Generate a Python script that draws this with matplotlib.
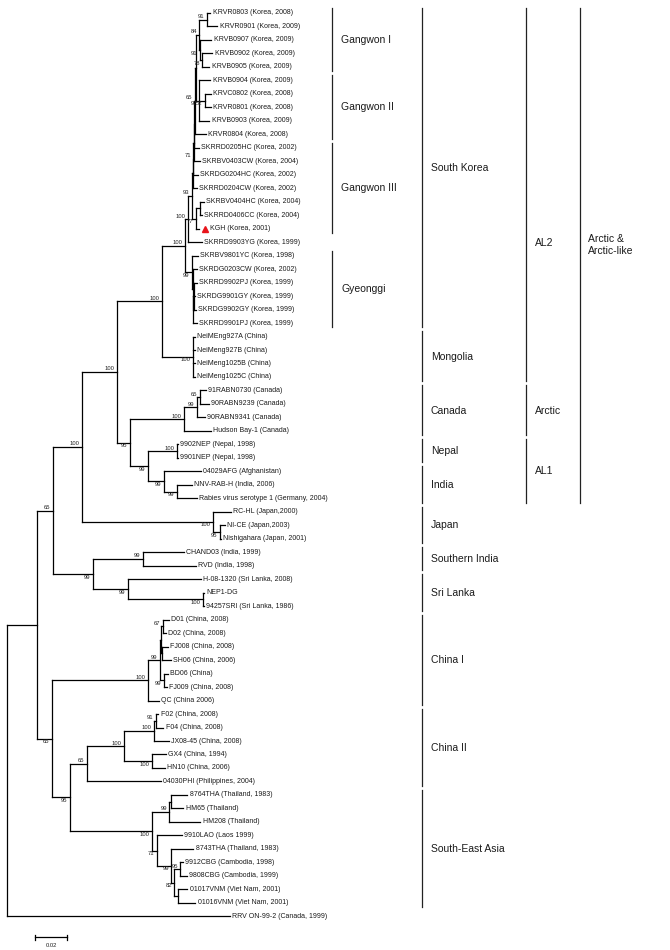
import matplotlib
matplotlib.use('Agg')
import matplotlib.pyplot as plt

plt.rcParams['font.family'] = ['Liberation Sans', 'DejaVu Sans']

# taxa, in the order they appear from top to bottom
taxa = [
    'KRVR0803 (Korea, 2008)', 'KRVR0901 (Korea, 2009)', 'KRVB0907 (Korea, 2009)',
    'KRVB0902 (Korea, 2009)', 'KRVB0905 (Korea, 2009)', 'KRVB0904 (Korea, 2009)',
    'KRVC0802 (Korea, 2008)', 'KRVR0801 (Korea, 2008)', 'KRVB0903 (Korea, 2009)',
    'KRVR0804 (Korea, 2008)', 'SKRRD0205HC (Korea, 2002)', 'SKRBV0403CW (Korea, 2004)',
    'SKRDG0204HC (Korea, 2002)', 'SKRRD0204CW (Korea, 2002)', 'SKRBV0404HC (Korea, 2004)',
    'SKRRD0406CC (Korea, 2004)', 'KGH (Korea, 2001)', 'SKRRD9903YG (Korea, 1999)',
    'SKRBV9801YC (Korea, 1998)', 'SKRDG0203CW (Korea, 2002)', 'SKRRD9902PJ (Korea, 1999)',
    'SKRDG9901GY (Korea, 1999)', 'SKRDG9902GY (Korea, 1999)', 'SKRRD9901PJ (Korea, 1999)',
    'NeiMEng927A (China)', 'NeiMeng927B (China)', 'NeiMeng1025B (China)', 'NeiMeng1025C (China)',
    '91RABN0730 (Canada)', '90RABN9239 (Canada)', '90RABN9341 (Canada)', 'Hudson Bay-1 (Canada)',
    '9902NEP (Nepal, 1998)', '9901NEP (Nepal, 1998)', '04029AFG (Afghanistan)',
    'NNV-RAB-H (India, 2006)', 'Rabies virus serotype 1 (Germany, 2004)',
    'RC-HL (Japan,2000)', 'NI-CE (Japan,2003)', 'Nishigahara (Japan, 2001)',
    'CHAND03 (India, 1999)', 'RVD (India, 1998)', 'H-08-1320 (Sri Lanka, 2008)',
    'NEP1-DG', '94257SRI (Sri Lanka, 1986)',
    'D01 (China, 2008)', 'D02 (China, 2008)', 'FJ008 (China, 2008)', 'SH06 (China, 2006)',
    'BD06 (China)', 'FJ009 (China, 2008)', 'QC (China 2006)',
    'F02 (China, 2008)', 'F04 (China, 2008)', 'JX08-45 (China, 2008)', 'GX4 (China, 1994)',
    'HN10 (China, 2006)', '04030PHI (Philippines, 2004)',
    '8764THA (Thailand, 1983)', 'HM65 (Thailand)', 'HM208 (Thailand)', '9910LAO (Laos 1999)',
    '8743THA (Thailand, 1983)', '9912CBG (Cambodia, 1998)', '9808CBG (Cambodia, 1999)',
    '01017VNM (Viet Nam, 2001)', '01016VNM (Viet Nam, 2001)',
    'RRV ON-99-2 (Canada, 1999)',
]
marked_taxon = 16  # KGH, red triangle

# newick pieces: leaf = taxon index, internal label = bootstrap
gangwon_1 = "((0:.0019,1:.0063)91:.0050,(2:.0069,(3:.0063,4:.0044)78:.0013)91:.0006)84:.0019"
gangwon_2 = "(5:.0069,(6:.0037,7:.0037)52:.0037,8:.0063)97:.0019"
gangwon = ("((((((" + gangwon_1 + "," + gangwon_2 + "):.0011,9:.0073)65:.0003,10:.0032):.0002,"
           "11:.0040):.0002,12:.0029)71:.0002,13:.0025):.0006")
korea = ("(((" + gangwon + ",((14:.0025,15:.0013):.0025,16:.0019)77:.0025)93:.0025,17:.0088)100:.0019,"
         "(18:.0037,(19:.0028,((20:.0022,21:.0009,22:.0016):.0003,23:.0025):.0003):.0003)99:.0044)100:.0144")
mongolia = "(24:.0013,25:.0013,26:.0013,27:.0013)100:.0194"
canada = "(((28:.0038,29:.0056)65:.0019,30:.0050)99:.0081,31:.0169)100:.0338"
nepal_india = "((32:.0006,33:.0006)100:.0181,(34:.0231,(35:.0094,36:.0125)99:.0081)99:.0100)99:.0113"
japan = "(37:.0113,(38:.0031,39:.0006)95:.0044)100:.0819"
clade_d = ("(((" + korea + "," + mongolia + ")100:.0281,(" + canada + "," + nepal_india
           + ")95:.0081)100:.0219," + japan + ")100:.0181")
south_asia = "((40:.0256,41:.0331)99:.0313,(42:.0456,(43:.0006,44:.0006)100:.0469)99:.0219)99:.0250"
china_1 = ("((((45:.0038,46:.0019)67:.0013,(47:.0038,48:.0056):.0006):.0006,"
           "(49:.0025,50:.0019)99:.0025)99:.0075,51:.0069)100:.0600")
china_2 = ("((((52:.0013,53:.0044)91:.0013,54:.0094)100:.0188,(55:.0088,56:.0081)100:.0175)100:.0231,"
           "57:.0463)65:.0106")
se_asia = ("(((58:.0100,59:.0075):.0013,60:.0194)99:.0106,(61:.0156,(62:.0138,((63:.0013,64:.0038)95:.0038,"
           "(65:.0056,66:.0106):.0025)82:.0019)99:.0088)71:.0031)100:.0513")
tree_newick = ("(((" + clade_d + "," + south_asia + ")65:.0100,(" + china_1 + ",(" + china_2 + ","
               + se_asia + ")95:.0113)65:.0094):.0188,67:.1394);")

# clade brackets on the right: (name, first taxon, last taxon)
groups_1 = [('Gangwon I', 0, 4), ('Gangwon II', 5, 9), ('Gangwon III', 10, 16), ('Gyeonggi', 18, 23)]
groups_2 = [('South Korea', 0, 23), ('Mongolia', 24, 27), ('Canada', 28, 31), ('Nepal', 32, 33),
            ('India', 34, 36), ('Japan', 37, 39), ('Southern India', 40, 41), ('Sri Lanka', 42, 44),
            ('China I', 45, 51), ('China II', 52, 57), ('South-East Asia', 58, 66)]
groups_3 = [('AL2', 0, 27), ('Arctic', 28, 31), ('AL1', 32, 36)]
groups_4 = [('Arctic &\nArctic-like', 0, 36)]

scale_length = 0.02


def parse_newick(s):
    s = s.replace(' ', '')
    pos = 0

    def node():
        nonlocal pos
        children = []
        if s[pos] == '(':
            pos += 1
            children.append(node())
            while s[pos] == ',':
                pos += 1
                children.append(node())
            pos += 1
        start = pos
        while s[pos] not in ':,);':
            pos += 1
        label = s[start:pos]
        length = 0.0
        if s[pos] == ':':
            pos += 1
            start = pos
            while s[pos] not in ',);':
                pos += 1
            length = float(s[start:pos])
        return {'children': children, 'label': label, 'length': length}

    return node()


def layout(nd, parent_x):
    nd['x'] = parent_x + nd['length']
    if not nd['children']:
        nd['y'] = float(nd['label'])
        return
    for c in nd['children']:
        layout(c, nd['x'])
    nd['y'] = (nd['children'][0]['y'] + nd['children'][-1]['y']) / 2


def draw(ax, nd):
    kids = nd['children']
    line = dict(color='black', lw=0.9, solid_capstyle='projecting')
    ax.plot([nd['x'], nd['x']], [kids[0]['y'], kids[-1]['y']], **line)
    for i, c in enumerate(kids):
        ax.plot([nd['x'], c['x']], [c['y'], c['y']], **line)
        if c['children']:
            if c['label']:
                above = i == 0
                ax.annotate(c['label'], (c['x'], c['y']), xytext=(-1.8, 0.4 if above else -0.4),
                            textcoords='offset points', ha='right',
                            va='bottom' if above else 'top', fontsize=4.2, color='#222222')
            draw(ax, c)
        else:
            k = int(c['label'])
            dx = 1.6
            if k == marked_taxon:
                ax.annotate('', (c['x'], c['y']))
                ax.plot([c['x']], [c['y']], marker='^', ms=5, color='#e8141b', mec='#e8141b',
                        transform=ax.transData + matplotlib.transforms.ScaledTranslation(
                            4.3 / 72, 0, ax.figure.dpi_scale_trans))
                dx = 7.6
            ax.annotate(taxa[k], (c['x'], c['y']), xytext=(dx, 0), textcoords='offset points',
                        ha='left', va='center', fontsize=5.0, color='#1a1a1a')


def draw_groups(ax, groups, col_x, text_dx, label_pos=None):
    tr = ax.get_yaxis_transform()
    for name, a, b in groups:
        ax.plot([col_x, col_x], [a - 0.38, b + 0.32], color='#222222', lw=0.9, transform=tr)
        yl = (a + b) / 2
        if label_pos and name in label_pos:
            yl = label_pos[name]
        ax.text(col_x + text_dx, yl, name, transform=tr, ha='left', va='center',
                fontsize=7.5, color='#1a1a1a', linespacing=1.25)


fig = plt.figure(figsize=(6.7, 9.5), dpi=100)
ax = fig.add_axes([0, 0, 1, 1])
ax.set_xlim(-0.0044, 0.4144)
ax.set_ylim(69.5, -0.96)
ax.axis('off')

tree = parse_newick(tree_newick)
layout(tree, 0.0)
draw(ax, tree)

gap = 9 / 670
draw_groups(ax, groups_1, 332 / 670, gap)
draw_groups(ax, groups_2, 422 / 670, gap)
draw_groups(ax, groups_3, 526 / 670, gap, label_pos={'AL2': 17.1})
draw_groups(ax, groups_4, 580 / 670, 8 / 670, label_pos={'Arctic &\nArctic-like': 17.2})

# scale bar
sx0, sy = 0.0175, 68.55
ax.plot([sx0, sx0 + scale_length], [sy, sy], color='black', lw=0.9)
for xe in (sx0, sx0 + scale_length):
    ax.plot([xe, xe], [sy - 0.18, sy + 0.18], color='black', lw=0.9)
ax.text(sx0 + scale_length / 2, sy + 0.45, str(scale_length), ha='center', va='top',
        fontsize=4.2, color='#222222')

fig.savefig('out.png', dpi=100)
